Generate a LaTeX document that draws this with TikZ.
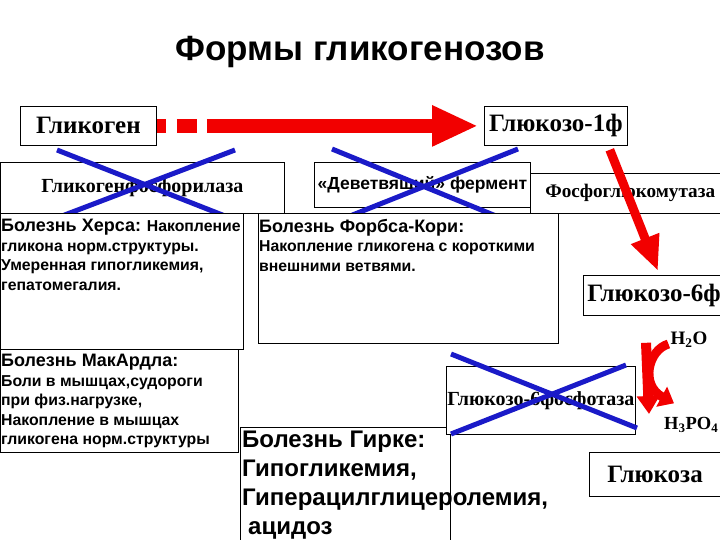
\documentclass[tikz,border=0pt]{standalone}
\usepackage{fontspec}
\setmainfont{Liberation Serif}
\setsansfont{Liberation Sans}
\usepackage{tikz}
\usetikzlibrary{arrows.meta,calc,positioning}
\definecolor{CrossBlue}{HTML}{1A1AC8}
\definecolor{ArrowRed}{HTML}{F20000}

\begin{document}
\begin{tikzpicture}[x=1pt,y=-1pt,
      box/.style={draw=black,fill=white,line width=0.8pt,inner sep=0pt,anchor=north west,align=center,font=\bfseries\fontsize{25}{27}\selectfont},
      enzyme/.style={box,font=\bfseries\fontsize{20}{22}\selectfont},
      sickbox/.style={draw=black,fill=white,line width=0.8pt,inner sep=0pt,anchor=north west},
      sicktext/.style={anchor=north west,inner sep=0pt,align=left,font=\sffamily\bfseries\fontsize{15.8}{19.5}\selectfont},
      cross/.style={draw=CrossBlue,line width=5pt},
      mainarrow/.style={draw=ArrowRed,line width=14pt,dash pattern=on 9pt off 11pt on 20pt off 10pt on 400pt,-{Triangle[length=46pt,width=38pt]},shorten >=6pt},
      redarrow/.style={draw=ArrowRed,line width=9pt,-{Triangle[length=35pt,width=28pt]}},
      bendarrow/.style={draw=ArrowRed,line width=9pt,-{Triangle[length=14pt,width=22pt]}}
    ]
      \clip (0,0) rectangle (720,540);
      \node[font=\sffamily\bfseries\fontsize{35}{37}\selectfont] (title) at (360,52) {Формы гликогенозов};

      % metabolites
      \node[box,minimum width=136pt,minimum height=39pt] (gly) at (20,106) {Гликоген};
      \node[box,minimum width=143pt,minimum height=39pt] (g1p) at (484,106) {Глюкозо-1ф};
      \node[box,minimum width=160pt,minimum height=40pt,text width=152pt,align=left,inner xsep=3pt] (g6p) at (583,275) {Глюкозо-6ф};
      \node[box,minimum width=160pt,minimum height=44pt,text width=142pt,align=left,inner xsep=18pt] (glc) at (589,452) {Глюкоза};

      % enzymes
      \node[enzyme,minimum width=284pt,minimum height=51pt] (gpase) at (0,162) {Гликогенфосфорилаза};
      \node[enzyme,minimum width=216pt,minimum height=45pt,font=\sffamily\bfseries\fontsize{17.5}{19}\selectfont] (debr) at (314,162) {«Деветвящий» фермент};
      \node[enzyme,minimum width=230pt,minimum height=40pt,text width=215pt,align=left,inner xsep=15pt,font=\bfseries\fontsize{19.2}{21}\selectfont] (pgm) at (530,173) {Фосфоглюкомутаза};

      \draw[cross] (57,150) -- (225,216);
      \draw[cross] (235,150) -- (62,216);
      \draw[cross] (332,149) -- (496,216);
      \draw[cross] (518,149) -- (350,216);

      % diseases
      \node[sickbox,minimum width=243pt,minimum height=136pt] (hers) at (0,213) {};
      \node[sickbox,minimum width=300pt,minimum height=130pt] (forbes) at (258,213) {};
      \node[sickbox,minimum width=238pt,minimum height=103pt] (mcardle) at (0,349) {};
      \node[sickbox,minimum width=210pt,minimum height=140pt] (girke) at (240,427) {};
      \node[enzyme,minimum width=189pt,minimum height=68pt] (g6pase) at (446,366) {Глюкозо-6фосфотаза};

      \node[sicktext] (herstxt) at ($(hers.north west)+(1,6)$) {{\fontsize{18}{19.5}\selectfont Болезнь Херса:} Накопление\\гликона норм.структуры.\\Умеренная гипогликемия,\\гепатомегалия.};
      \node[sicktext] (forbestxt) at ($(forbes.north west)+(1,6)$) {{\fontsize{18}{19.5}\selectfont Болезнь Форбса-Кори:}\\Накопление гликогена с короткими\\внешними ветвями.};
      \node[sicktext] (mcardletxt) at ($(mcardle.north west)+(1,5)$) {{\fontsize{18}{19.5}\selectfont Болезнь МакАрдла:}\\Боли в мышцах,судороги\\при физ.нагрузке,\\Накопление в мышцах\\гликогена норм.структуры};
      \node[sicktext,font=\sffamily\bfseries\fontsize{24}{29}\selectfont] (girketxt) at ($(girke.north west)+(2,4)$) {Болезнь Гирке:\\Гипогликемия,\\Гиперацилглицеролемия,\\\hspace*{6pt}ацидоз};

      \draw[cross] (451,354) -- (637,428);
      \draw[cross] (451,434) -- (626,365);

      % reaction side products
      \node[font=\bfseries\fontsize{19}{21}\selectfont,inner sep=0pt] (h2o) at (689,340) {H\textsubscript{2}O};
      \node[font=\bfseries\fontsize{18.5}{21}\selectfont,inner sep=0pt,anchor=west] (h3po4) at (664,425) {H\textsubscript{3}PO\textsubscript{4}};

      % arrows
      \draw[mainarrow] (gly.east) -- (g1p.west);
      \draw[redarrow] ($(g1p.south east)+(-18,4)$) -- ($(g6p.north west)+(75,-4)$);
      \draw[redarrow,line width=10pt,-{Triangle[length=18pt,width=22pt]}] ($(g6p.south west)+(63,27)$) -- ($(glc.north west)+(60,-38)$);
      \draw[bendarrow] ($(h2o.west)+(-2,4)$) .. controls (648,350) and (640,385) .. ($(h3po4.north west)+(10,-14)$);
    \end{tikzpicture}
\end{document}
